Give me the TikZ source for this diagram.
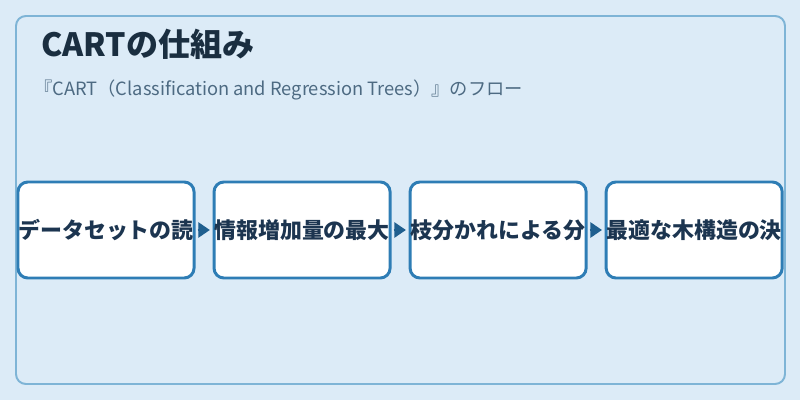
\documentclass[tikz,border=0pt]{standalone}
\usepackage{fontspec}
\setmainfont{Noto Sans CJK JP}
\usetikzlibrary{positioning,arrows.meta}

\definecolor{pagebg}{HTML}{DCEBF7}
\definecolor{panelline}{HTML}{7EB4D6}
\definecolor{boxline}{HTML}{2E7DB5}
\definecolor{arrowblue}{HTML}{1F5F8F}
\definecolor{titletext}{HTML}{1A2E40}
\definecolor{subtext}{HTML}{4D6A82}
\definecolor{labeltext}{HTML}{1C3550}

\begin{document}
\begin{tikzpicture}[x=0.025cm,y=-0.025cm,>={Triangle[length=8.2pt,width=11pt]},node distance=0.5cm,
    stage box/.style={draw=boxline,line width=2.1pt,fill=white,rounded corners=7pt,minimum width=4.4cm,minimum height=2.4cm,inner sep=0pt,outer sep=0pt,font=\bfseries\fontsize{15.6}{18}\selectfont,text=labeltext},
    flow/.style={->,draw=arrowblue,fill=arrowblue,line width=1pt,shorten <=2.5pt,shorten >=3pt}]
    \useasboundingbox[fill=pagebg] (0,0) rectangle (800,400);
    \draw[panelline,line width=1.4pt,rounded corners=7pt] (16,16) rectangle (785,384);

    \node[anchor=base west,inner sep=0pt,font=\bfseries\fontsize{22.8}{26}\selectfont,text=titletext] (title) at (41,57) {CARTの仕組み};
    \node[anchor=base west,inner sep=0pt,font=\fontsize{13}{15}\selectfont,text=subtext] (subtitle) at (34,96) {『CART（Classification and Regression Trees）』のフロー};

    \node[stage box] (read) at (106,230) {データセットの読};
    \node[stage box] (gain) [right=of read] {情報増加量の最大};
    \node[stage box] (split) [right=of gain] {枝分かれによる分};
    \node[stage box] (tree) [right=of split] {最適な木構造の決};

    \path[flow]
        (read) edge (gain)
        (gain) edge (split)
        (split) edge (tree)
        ;
\end{tikzpicture}
\end{document}
